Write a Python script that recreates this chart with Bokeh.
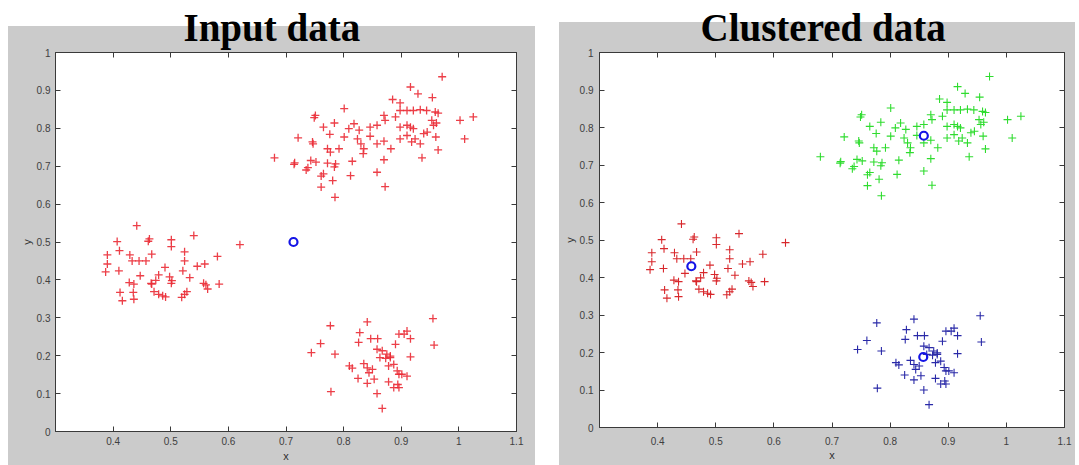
from bokeh.plotting import figure
from bokeh.layouts import row
from bokeh.models import (FixedTicker, CustomJSTickFormatter, LinearAxis, Title,
                          Range1d, CustomLabelingPolicy)
from bokeh.embed import file_html
from bokeh.resources import INLINE

# ---------------- data ----------------
cluster_a_x = [0.441, 0.407, 0.463, 0.461, 0.501, 0.501, 0.540, 0.620, 0.411, 0.390,
               0.390, 0.387, 0.410, 0.429, 0.433, 0.445, 0.457, 0.467, 0.524, 0.524,
               0.490, 0.521, 0.546, 0.559, 0.581, 0.479, 0.467, 0.474, 0.498, 0.501,
               0.533, 0.557, 0.561, 0.564, 0.584, 0.428, 0.436, 0.447, 0.412, 0.416,
               0.435, 0.436, 0.471, 0.479, 0.486, 0.491, 0.519, 0.524, 0.528, 0.466, 0.502]
cluster_a_y = [0.543, 0.501, 0.508, 0.502, 0.506, 0.488, 0.517, 0.493, 0.477, 0.466,
               0.442, 0.421, 0.424, 0.466, 0.450, 0.450, 0.450, 0.468, 0.474, 0.450,
               0.433, 0.424, 0.436, 0.442, 0.462, 0.413, 0.389, 0.399, 0.408, 0.391,
               0.406, 0.391, 0.387, 0.376, 0.389, 0.393, 0.389, 0.411, 0.367, 0.345,
               0.367, 0.349, 0.369, 0.362, 0.358, 0.355, 0.354, 0.362, 0.369, 0.391, 0.398]

cluster_b_x = [0.971, 0.916, 0.929, 0.954, 0.885, 0.898, 0.898, 0.910, 0.921, 0.933,
               0.944, 0.959, 0.964, 0.801, 0.751, 0.749, 0.784, 0.765, 0.721, 0.746,
               0.747, 0.776, 0.801, 0.809, 0.818, 0.827, 0.846, 0.858, 0.870, 0.872,
               0.890, 0.898, 0.910, 0.916, 0.921, 0.953, 0.956, 0.961, 0.939, 0.945,
               0.960, 1.002, 1.025, 1.010, 0.924, 0.918, 0.933, 0.898, 0.910, 0.882,
               0.870, 0.858, 0.830, 0.824, 0.846, 0.835, 0.834, 0.772, 0.777, 0.792,
               0.680, 0.715, 0.714, 0.743, 0.752, 0.772, 0.786, 0.784, 0.738, 0.735,
               0.765, 0.761, 0.781, 0.815, 0.812, 0.858, 0.872, 0.761, 0.785, 0.964,
               0.936, 0.870]
cluster_b_y = [0.936, 0.909, 0.891, 0.881, 0.876, 0.867, 0.847, 0.847, 0.847, 0.849,
               0.847, 0.843, 0.840, 0.852, 0.834, 0.828, 0.814, 0.803, 0.775, 0.764,
               0.759, 0.784, 0.777, 0.799, 0.812, 0.795, 0.803, 0.808, 0.834, 0.821,
               0.830, 0.803, 0.808, 0.803, 0.799, 0.821, 0.808, 0.814, 0.786, 0.790,
               0.777, 0.821, 0.830, 0.772, 0.772, 0.764, 0.759, 0.772, 0.781, 0.746,
               0.766, 0.759, 0.759, 0.772, 0.779, 0.746, 0.733, 0.746, 0.737, 0.746,
               0.722, 0.709, 0.705, 0.715, 0.711, 0.708, 0.706, 0.698, 0.696, 0.690,
               0.680, 0.674, 0.662, 0.713, 0.675, 0.684, 0.646, 0.645, 0.618, 0.743,
               0.722, 0.717]

cluster_c_x = [0.777, 0.841, 0.828, 0.760, 0.744, 0.785, 0.826, 0.847, 0.859, 0.896,
               0.910, 0.905, 0.916, 0.890, 0.858, 0.867, 0.875, 0.881, 0.881, 0.916,
               0.810, 0.815, 0.835, 0.841, 0.850, 0.844, 0.825, 0.841, 0.853, 0.878,
               0.887, 0.893, 0.896, 0.901, 0.910, 0.887, 0.896, 0.894, 0.858, 0.778,
               0.867, 0.878, 0.873, 0.863, 0.955, 0.957]
cluster_c_y = [0.279, 0.289, 0.261, 0.232, 0.208, 0.204, 0.235, 0.245, 0.245, 0.257,
               0.265, 0.257, 0.245, 0.230, 0.217, 0.213, 0.204, 0.199, 0.195, 0.197,
               0.173, 0.167, 0.179, 0.168, 0.164, 0.155, 0.140, 0.127, 0.138, 0.131,
               0.177, 0.160, 0.151, 0.151, 0.146, 0.116, 0.116, 0.124, 0.100, 0.105,
               0.061, 0.173, 0.193, 0.195, 0.298, 0.228]

initial_centroid_x = [0.713]
initial_centroid_y = [0.500]
final_centroid_x = [0.458, 0.858, 0.857]
final_centroid_y = [0.430, 0.778, 0.188]

x_ticks = [0.4, 0.5, 0.6, 0.7, 0.8, 0.9, 1.0, 1.1]
y_ticks = [0.0, 0.1, 0.2, 0.3, 0.4, 0.5, 0.6, 0.7, 0.8, 0.9, 1.0]
titles = ["Input data", "Clustered data"]

RED_IN = "#ea2a34"
RED = "#d8282c"
GREEN = "#2fdc2f"
BLUE = "#2a2aa8"
CENTROID = "#1414e6"
GREY = "#cbcbcb"
AXIS = "#3a3a3a"

fmt_code = "return tick.toFixed(1).replace(/\\.0$/, '');"
no_labels = CustomLabelingPolicy(code="return new Set()")


def make_panel(title, title_offset, fw, fh, left, right, top, bottom,
               bg_css, x_std, x_lab_std, y_std, y_lab_std):
    p = figure(frame_width=fw, frame_height=fh,
               x_range=Range1d(0.3, 1.1), y_range=Range1d(0.0, 1.0),
               output_backend="svg", toolbar_location=None,
               min_border_left=left, min_border_right=right,
               min_border_top=top, min_border_bottom=bottom)
    p.background_fill_color = "white"
    p.border_fill_alpha = 0.0
    p.outline_line_color = AXIS
    p.grid.visible = False
    p.styles = {"background": bg_css}

    p.xaxis.ticker = FixedTicker(ticks=x_ticks)
    p.yaxis.ticker = FixedTicker(ticks=y_ticks)
    p.xaxis.formatter = CustomJSTickFormatter(code=fmt_code)
    p.yaxis.formatter = CustomJSTickFormatter(code=fmt_code)
    p.xaxis.axis_label = "x"
    p.yaxis.axis_label = "y"
    for ax in p.xaxis + p.yaxis:
        ax.major_tick_in = 5
        ax.major_tick_out = 0
        ax.minor_tick_line_color = None
        ax.axis_line_color = AXIS
        ax.major_tick_line_color = AXIS
        ax.major_label_text_font = "Liberation Sans"
        ax.major_label_text_font_size = "10px"
        ax.major_label_text_color = "#404040"
        ax.axis_label_text_font = "Liberation Sans"
        ax.axis_label_text_font_size = "11px"
        ax.axis_label_text_font_style = "normal"
        ax.axis_label_text_color = "#303030"
    p.xaxis.major_label_standoff = x_std
    p.xaxis.axis_label_standoff = x_lab_std
    p.yaxis.major_label_standoff = y_std
    p.yaxis.axis_label_standoff = y_lab_std

    top_ax = LinearAxis(ticker=FixedTicker(ticks=x_ticks), major_label_policy=no_labels)
    right_ax = LinearAxis(ticker=FixedTicker(ticks=y_ticks), major_label_policy=no_labels)
    for ax in (top_ax, right_ax):
        ax.major_tick_in = 5
        ax.major_tick_out = 0
        ax.minor_tick_line_color = None
        ax.axis_line_color = AXIS
        ax.major_tick_line_color = AXIS
        ax.major_label_text_font_size = "1px"
        ax.major_label_standoff = 0
    p.add_layout(top_ax, "above")
    p.add_layout(right_ax, "right")

    p.add_layout(Title(text=title, align="left", offset=title_offset, standoff=0,
                       text_font="Liberation Serif", text_font_style="bold",
                       text_font_size="39px", text_color="black"), "above")
    return p


p1 = make_panel(titles[0], 128, 461, 379, 55, 21, 52, 38,
                f"linear-gradient({GREY}, {GREY}) 8px 26px / 527px calc(100% - 26px) no-repeat",
                5, 2, 5, 1)
p2 = make_panel(titles[1], 101, 465, 375, 62, 11, 49, 42,
                f"linear-gradient({GREY}, {GREY}) 22px 22px / calc(100% - 22px) calc(100% - 22px) no-repeat",
                9, 1, 6, 1)

# Input data: all points red, one initial centroid
all_x = cluster_a_x + cluster_b_x + cluster_c_x
all_y = cluster_a_y + cluster_b_y + cluster_c_y
p1.scatter(x=all_x, y=all_y, marker="cross", size=8, line_width=1.3,
           line_color=RED_IN, line_alpha=0.9)
p1.scatter(x=initial_centroid_x, y=initial_centroid_y, marker="circle", size=8,
           fill_color=None, line_color=CENTROID, line_width=2.2)

# Clustered data
p2.scatter(x=cluster_a_x, y=cluster_a_y, marker="cross", size=8, line_width=1.1,
           line_color=RED)
p2.scatter(x=cluster_b_x, y=cluster_b_y, marker="cross", size=8, line_width=1.1,
           line_color=GREEN)
p2.scatter(x=cluster_c_x, y=cluster_c_y, marker="cross", size=8, line_width=1.1,
           line_color=BLUE)
p2.scatter(x=final_centroid_x, y=final_centroid_y, marker="circle", size=8,
           fill_color=None, line_color=CENTROID, line_width=2.2)

layout = row(p1, p2, spacing=0)
open("out.html", "w").write(file_html(layout, INLINE))
